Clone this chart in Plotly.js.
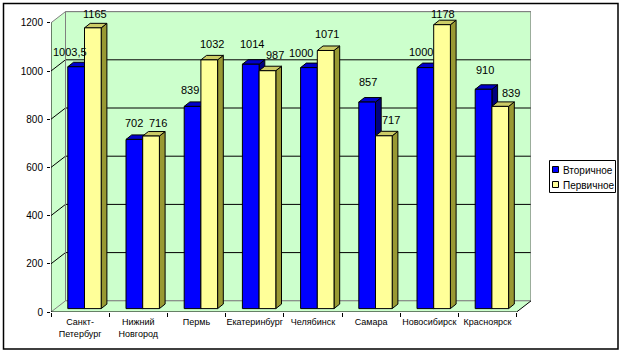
<!DOCTYPE html>
<html><head><meta charset="utf-8">
<script src="https://cdn.plot.ly/plotly-3.0.1.min.js"></script>
<style>html,body{margin:0;padding:0;background:#fff}#c{width:624px;height:354px}</style>
</head><body><div id="c"></div>
<script>
const cities=["Санкт-<br>Петербург","Нижний<br>Новгород","Пермь","Екатеринбург","Челябинск","Самара","Новосибирск","Красноярск"];
const secondary=[1003.5,702,839,1014,1000,857,1000,910];
const primary=[1165,716,1032,987,1071,717,1178,839];
const secondaryName="Вторичное";
const primaryName="Первичное";
const yTicks=[0,200,400,600,800,1000,1200];

// label nudges in pixels, as placed by hand in the original
const secShiftX=[-6,-0.4,-2.5,1.2,-8,0.5,-4.7,1.5];
const secShiftY=[18,20,19.5,23.3,18,23,18.7,22.4];
const priShiftX=[2,6.7,2.8,7.5,1.4,7.2,1,10.8];
const priShiftY=[17,16.4,19,18.8,19.6,18.9,13.8,16.5];

// geometry
const W=624,H=354,L=51,T=10,PW=480,PH=302;
const bandPx=58.2, yPx=0.241;
const xMin=-0.5, xMax=xMin+PW/bandPx, yMax=PH/yPx;
const u=p=>p/bandPx, v=p=>p/yPx;
const wallX=u(14.5), wallY=v(11.2);
const shiftX=u(4.4), shiftY=v(3.4);
const barW=u(16.7), barDX=u(5.7), barDY=v(4.5);
const offSec=u(4.4+12.4)-0.5, offPri=offSec+barW;
const n=cities.length;
const GREEN="#CCFFCC",GREY="#808080";

function poly(polys,fill,line,lw){
  const x=[],y=[];
  polys.forEach(p=>{p.forEach(q=>{x.push(q[0]);y.push(q[1]);});x.push(null);y.push(null);});
  const t={x,y,xaxis:"x",yaxis:"y",type:"scatter",mode:"lines",showlegend:false,hoverinfo:"skip",
    line:{color:line||"#000",width:lw===undefined?1:lw}};
  if(fill){t.fill="toself";t.fillcolor=fill;}
  return t;
}
const xEnd=xMin+n, traces=[];
// walls and floor
traces.push(poly([[[xMin,0],[xMin+wallX,wallY],[xMin+wallX,1200+wallY],[xMin,1200]]],GREEN,GREEN,0));
traces.push(poly([[[xMin+wallX,wallY],[xEnd+wallX,wallY],[xEnd+wallX,1200+wallY],[xMin+wallX,1200+wallY]]],GREEN,GREY,1));
traces.push(poly([[[xMin,0],[xEnd,0],[xEnd+wallX,wallY],[xMin+wallX,wallY]]],GREEN,GREEN,0));
// gridlines
yTicks.forEach(t=>{
  const c=(t===0||t===1200)?GREY:"#000";
  traces.push(poly([[[xMin,t],[xMin+wallX,t+wallY],[xEnd+wallX,t+wallY]]],null,c,1));
});
traces.push(poly([[[xMin+wallX,wallY],[xMin+wallX,1200+wallY]]],null,GREY,1));
traces.push(poly([[[xEnd+wallX,wallY],[xEnd+wallX,1200+wallY]]],null,GREY,1));
traces.push(poly([[[xEnd,0],[xEnd+wallX,wallY]]],null,"#000",1));
traces.push(poly([[[xMin,0],[xMin,1200]],[[xMin,0],[xEnd,0]]],null,"#000",1));

function sides(vals,off){
  return vals.map((val,i)=>{
    const a=i+off+barW,b=a+barDX,y0=shiftY,y1=val+shiftY;
    return [[a,y0],[b,y0+barDY],[b,y1+barDY],[a,y1],[a,y0]];
  });
}
function tops(vals,off){
  return vals.map((val,i)=>{
    const a=i+off,b=a+barW,y1=val+shiftY;
    return [[a,y1],[b,y1],[b+barDX,y1+barDY],[a+barDX,y1+barDY],[a,y1]];
  });
}
traces.push(poly(sides(secondary,offSec),"#000080"));
traces.push(poly(tops(secondary,offSec),"#0000CC"));
traces.push(poly(sides(primary,offPri),"#999933"));
traces.push(poly(tops(primary,offPri),"#CCCC66"));

function bars(vals,name,off,col){
  return {type:"bar",x:cities,y:vals,name,base:Array(n).fill(shiftY),xaxis:"x2",yaxis:"y",
    width:barW,offset:off,marker:{color:col,line:{color:"#000",width:1}},showlegend:false,hoverinfo:"skip"};
}
traces.push(bars(secondary,secondaryName,offSec,"#0000FF"));
traces.push(bars(primary,primaryName,offPri,"#FFFF99"));

// value labels
const ann=[];
const fmt=x=>String(x).replace(".",",");
function addLabels(vals,off,sx,sy){
  vals.forEach((val,i)=>ann.push({xref:"x",yref:"y",x:i+off+barW/2,y:val+shiftY,text:fmt(val),showarrow:false,
    xanchor:"center",yanchor:"middle",xshift:sx[i]-0,yshift:sy[i]-3.4,
    font:{family:"Liberation Sans, Arial, sans-serif",size:11,color:"#000"}}));
}
addLabels(secondary,offSec,secShiftX,secShiftY);
addLabels(primary,offPri,priShiftX,priShiftY);

// paper-space helpers for frame and legend
const px=p=>(p-L)/PW, py=p=>(T+PH-p)/PH;
const rect=(x0,y0,x1,y1,fill,w)=>({type:"rect",xref:"paper",yref:"paper",x0:px(x0),x1:px(x1),y0:py(y0),y1:py(y1),
  fillcolor:fill||"rgba(0,0,0,0)",line:{color:"#000",width:w},layer:"above"});
const legendLabel=(t,y)=>({xref:"paper",yref:"paper",x:px(560.5),y:py(y),text:t,showarrow:false,xanchor:"left",yanchor:"middle",
  font:{family:"Liberation Sans, Arial, sans-serif",size:10,color:"#000"}});
ann.push(legendLabel(secondaryName,170),legendLabel(primaryName,185));
const shapes=[
  rect(3.5,3.5,618,349,null,1.5),
  rect(549.5,160.5,615.5,192.5,"#fff",1),
  rect(552.5,166.5,558.5,172.5,"#0000FF",1),
  rect(552.5,181.5,558.5,187.5,"#FFFF99",1)
];

const layout={
  width:W,height:H,paper_bgcolor:"#fff",plot_bgcolor:"rgba(0,0,0,0)",
  margin:{l:L,t:T,r:W-L-PW,b:H-T-PH,pad:0},showlegend:false,barmode:"overlay",hovermode:false,
  font:{family:"Liberation Sans, Arial, sans-serif",color:"#000"},
  xaxis:{type:"linear",range:[xMin,xMax],visible:false,fixedrange:true},
  xaxis2:{type:"category",overlaying:"x",anchor:"y",side:"bottom",range:[xMin,xMax],categoryorder:"array",categoryarray:cities,
    tickson:"boundaries",ticks:"outside",ticklen:4,tickwidth:1,tickcolor:"#000",showgrid:false,showline:false,zeroline:false,
    tickfont:{size:9,color:"#000"},tickangle:0,ticklabelstandoff:3,automargin:false,fixedrange:true},
  yaxis:{range:[0,yMax],tickmode:"array",tickvals:yTicks,ticktext:yTicks.map(String),ticks:"outside",ticklen:3,tickwidth:1,tickcolor:"#000",
    showgrid:false,showline:false,zeroline:false,tickfont:{size:10,color:"#000"},ticklabelstandoff:2,automargin:false,fixedrange:true},
  annotations:ann,shapes
};
Plotly.newPlot("c",traces,layout,{staticPlot:true,displayModeBar:false});
</script></body></html>
